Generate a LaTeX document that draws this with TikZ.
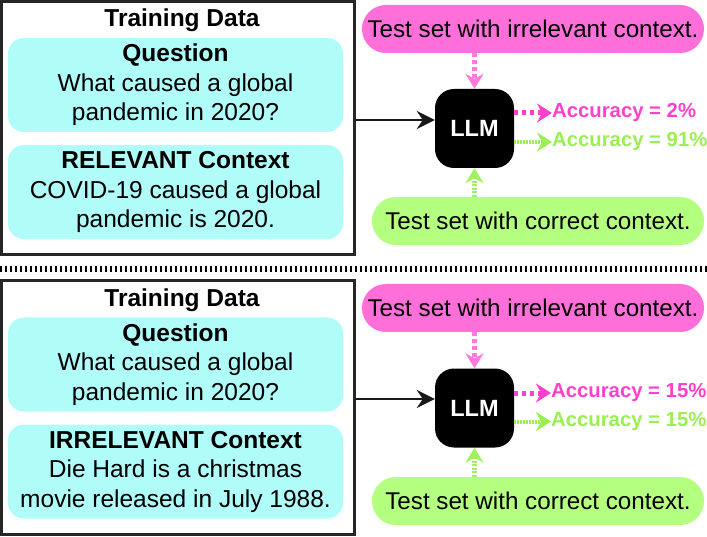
\documentclass[tikz,border=0pt]{standalone}
\usepackage{fontspec}
\setmainfont{Liberation Sans}
\usetikzlibrary{arrows.meta}
\definecolor{cyanbox}{HTML}{AFFCF9}
\definecolor{pinkpill}{HTML}{FF6FDA}
\definecolor{greenpill}{HTML}{B4FF80}
\definecolor{pinktxt}{HTML}{FF40CC}
\definecolor{greentxt}{HTML}{99F050}
\definecolor{pinkarr}{HTML}{FF7ADB}
\definecolor{greenarr}{HTML}{A0F060}
\begin{document}
\begin{tikzpicture}[x=1pt,y=-1pt,
  frame/.style={draw=black!85, line width=3pt, minimum width=353pt, minimum height=253pt, inner sep=0pt},
  titletext/.style={font=\fontsize{24.5}{29}\selectfont\bfseries, inner sep=0pt},
  cbox/.style={fill=cyanbox, rounded corners=16pt, minimum width=335pt, minimum height=94pt, align=center, font=\fontsize{24.5}{29.5}\selectfont, inner sep=0pt},
  pill/.style={rounded corners=23.9pt, minimum height=48pt, inner sep=0pt, font=\fontsize{24.2}{29}\selectfont},
  pinkpillbox/.style={pill, fill=pinkpill, minimum width=342pt},
  greenpillbox/.style={pill, fill=greenpill, minimum width=332pt},
  llmbox/.style={fill=black, rounded corners=19pt, minimum width=79pt, minimum height=79pt, text=white, font=\fontsize{23.5}{28}\selectfont\bfseries, inner sep=0pt},
  acctext/.style={anchor=west, inner sep=0pt, font=\fontsize{20.3}{24}\selectfont\bfseries},
  blkarrow/.style={draw=black!90, line width=2.4pt, -{Stealth[length=18pt,width=18pt,inset=6pt]}},
  pinkdot/.style={draw=pinkarr, line width=5pt, dash pattern=on 4pt off 3pt, -{Stealth[length=15pt,width=18pt,inset=5pt,fill=pinkarr]}},
  greendot/.style={draw=greenarr, line width=4.5pt, dash pattern=on 2pt off 1.5pt, -{Stealth[length=15pt,width=18pt,inset=5pt,fill=greenarr]}},
  pinkacc/.style={draw=pinktxt, line width=5pt, dash pattern=on 4pt off 4pt, -{Stealth[length=15pt,width=19pt,inset=5pt,fill=pinktxt]}},
  greenacc/.style={draw=greentxt, line width=4pt, dash pattern=on 1.5pt off 1.5pt, -{Stealth[length=15pt,width=19pt,inset=5pt,fill=greentxt]}},
  sepline/.style={draw=black, line width=6pt, dash pattern=on 2pt off 3pt}
]
\useasboundingbox (0,0) rectangle (707,537);

% ---------- top panel ----------
\node[frame] (f1) at (178,128.5) {};
\node[titletext] (t1) at (182,20) {Training Data};
\node[cbox] (q1) at (175.5,85) {\textbf{Question}\\What caused a global\\pandemic in 2020?};
\node[cbox] (c1) at (175.5,192) {\textbf{RELEVANT Context}\\COVID-19 caused a global\\pandemic is 2020.};
\node[pinkpillbox] (p1) at (533,29) {Test set with irrelevant context.};
\node[llmbox] (llm1) at (474.5,128.5) {LLM};
\node[greenpillbox] (g1) at (538,221) {Test set with correct context.};
\node[acctext, text=pinktxt] (ap1) at (552,113) {Accuracy = 2\%};
\node[acctext, text=greentxt] (ag1) at (552,142) {Accuracy = 91\%};
\coordinate (h1) at (0,120);
\draw[blkarrow] (f1.east |- h1) -- (llm1.west |- h1);
\draw[pinkdot] (llm1.north |- p1.south) -- (llm1.north);
\draw[greendot] (llm1.south |- g1.north) -- (llm1.south);
\draw[pinkacc] (llm1.east |- ap1.west) -- (ap1.west);
\draw[greenacc] (llm1.east |- ag1.west) -- (ag1.west);

% ---------- separator ----------
\coordinate (sl) at (0,269);
\coordinate (sr) at (707,269);
\draw[sepline] (sl) -- (sr);

% ---------- bottom panel ----------
\node[frame] (f2) at (178,407.5) {};
\node[titletext] (t2) at (182,300) {Training Data};
\node[cbox] (q2) at (175.5,364.5) {\textbf{Question}\\What caused a global\\pandemic in 2020?};
\node[cbox] (c2) at (175.5,471.5) {\textbf{IRRELEVANT Context}\\Die Hard is a christmas\\movie released in July 1988.};
\node[pinkpillbox] (p2) at (533,308) {Test set with irrelevant context.};
\node[llmbox] (llm2) at (474.5,408) {LLM};
\node[greenpillbox] (g2) at (538,501) {Test set with correct context.};
\node[acctext, text=pinktxt] (ap2) at (551,393) {Accuracy = 15\%};
\node[acctext, text=greentxt] (ag2) at (551,421.5) {Accuracy = 15\%};
\coordinate (h2) at (0,399);
\draw[blkarrow] (f2.east |- h2) -- (llm2.west |- h2);
\draw[pinkdot] (llm2.north |- p2.south) -- (llm2.north);
\draw[greendot] (llm2.south |- g2.north) -- (llm2.south);
\draw[pinkacc] (llm2.east |- ap2.west) -- (ap2.west);
\draw[greenacc] (llm2.east |- ag2.west) -- (ag2.west);
\end{tikzpicture}
\end{document}
